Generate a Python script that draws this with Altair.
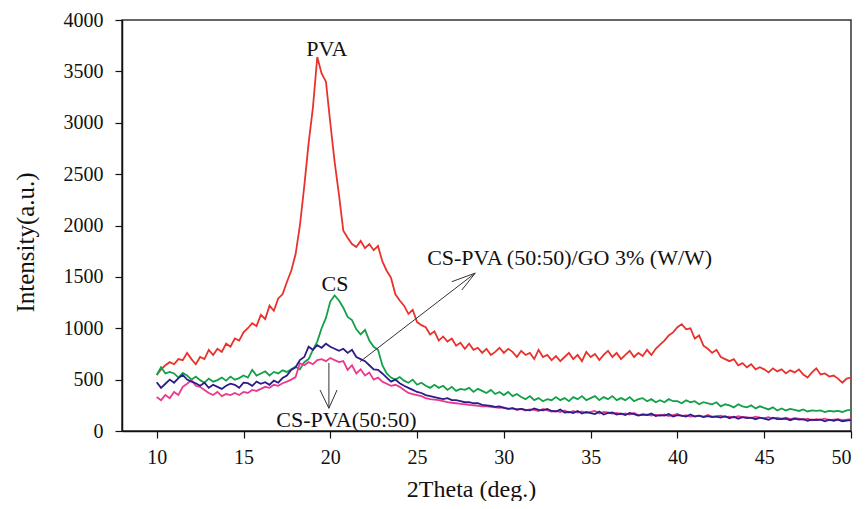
import altair as alt
import pandas as pd

# 2Theta grid (deg), step 0.25 from 10 to 50
two_theta = [round(10 + 0.25 * i, 2) for i in range(161)]

pva = [
    545, 600, 640, 670,  650, 700, 690, 760,  700, 650, 720, 700,
    790, 740, 800, 770,  850, 820, 900, 880,  960, 1000, 1050, 1020,
    1130, 1090, 1220, 1170,  1290, 1330, 1450, 1560,  1720, 2000, 2380, 2800,
    3150, 3640, 3480, 3400,  3000, 2620, 2300, 1950,  1880, 1820, 1790, 1850,
    1780, 1820, 1760, 1800,  1650, 1560, 1490, 1330,  1270, 1220, 1140, 1180,
    1060, 1030, 1010, 940,  970, 880, 920, 870,  900, 830, 860, 800,
    850, 790, 810, 760,  800, 740, 770, 810,  760, 800, 770, 720,
    780, 740, 760, 700,  790, 720, 740, 690,  730, 680, 720, 760,
    700, 740, 680, 770,  720, 750, 690, 740,  780, 720, 760, 700,
    740, 780, 720, 760,  730, 790, 740, 800,  840, 880, 930, 960,
    1010, 1040, 990, 1000,  900, 930, 830, 800,  760, 790, 720, 700,
    680, 700, 640, 660,  620, 650, 600, 620,  600, 570, 610, 580,
    600, 560, 590, 570,  600, 550, 520, 570,  610, 550, 560, 530,
    540, 510, 470, 510,  520,
]

cs = [
    545, 620, 560, 575,  560, 520, 565, 540,  500, 530, 495, 470,
    510, 480, 495, 520,  490, 530, 500, 515,  540, 520, 595, 540,
    560, 580, 540, 575,  560, 590, 575, 600,  625, 600, 670, 700,
    790, 870, 1000, 1100,  1260, 1320, 1270, 1200,  1110, 1080, 990, 940,
    985, 880, 820, 790,  640, 560, 520, 500,  525, 490, 470, 500,
    450, 470, 440, 420,  450, 420, 440, 400,  430, 390, 410, 400,
    420, 380, 410, 390,  370, 400, 360, 380,  350, 380, 340, 360,
    330, 310, 340, 300,  320, 290, 310, 300,  330, 300, 320, 290,
    330, 310, 340, 300,  320, 340, 300, 330,  310, 340, 300, 320,
    300, 330, 290, 310,  320, 290, 310, 280,  300, 280, 310, 290,
    290, 270, 300, 280,  290, 260, 280, 270,  260, 280, 240, 260,
    250, 230, 260, 240,  230, 250, 220, 240,  225, 210, 230, 200,
    220, 200, 215, 205,  195, 210, 190, 200,  195, 200, 185, 195,
    190, 195, 185, 200,  205,
]

cs_pva = [
    330, 300, 350, 320,  380, 350, 430, 460,  495, 440, 430, 400,
    370, 350, 380, 340,  360, 350, 370, 350,  380, 370, 400, 390,
    410, 430, 420, 450,  440, 465, 480, 500,  525, 660, 640, 670,
    650, 690, 700, 680,  710, 690, 670, 680,  595, 640, 560, 600,
    540, 570, 500, 520,  480, 460, 440, 450,  430, 400, 370, 360,
    350, 340, 320, 310,  305, 300, 290, 280,  275, 270, 265, 260,
    255, 250, 245, 240,  240, 235, 230, 225,  230, 215, 225, 205,
    215, 200, 210, 205,  195, 215, 200, 190,  195, 185, 200, 180,
    195, 180, 190, 175,  185, 195, 170, 185,  180, 170, 175, 165,
    170, 160, 175, 155,  165, 160, 150, 160,  150, 160, 145, 155,
    165, 145, 155, 140,  145, 150, 140, 155,  140, 145, 150, 135,
    140, 130, 145, 135,  135, 125, 140, 130,  125, 135, 120, 130,
    120, 130, 115, 125,  120, 110, 120, 105,  115, 110, 120, 105,
    110, 115, 105, 110,  115,
]

cs_pva_go = [
    475, 420, 460, 500,  470, 515, 545, 500,  480, 465, 440, 470,
    420, 450, 430, 410,  440, 460, 450, 420,  470, 465, 440, 480,
    460, 475, 450, 490,  470, 515, 540, 595,  620, 690, 720, 820,
    790, 835, 810, 850,  820, 800, 780, 800,  760, 790, 720, 700,
    680, 640, 600, 595,  560, 520, 480, 500,  465, 440, 420, 400,
    380, 370, 350, 340,  330, 320, 310, 320,  300, 300, 290, 280,
    280, 270, 270, 255,  250, 245, 235, 240,  225, 215, 220, 210,
    215, 205, 200, 220,  205, 200, 215, 195,  190, 210, 180, 185,
    175, 195, 170, 185,  175, 165, 190, 160,  175, 180, 160, 170,
    155, 175, 165, 150,  160, 155, 170, 145,  155, 150, 165, 140,
    155, 150, 140, 160,  140, 150, 135, 145,  135, 140, 130, 145,
    125, 140, 120, 135,  125, 130, 115, 130,  120, 110, 130, 115,
    115, 120, 105, 120,  110, 115, 100, 110,  105, 110, 95, 110,
    100, 110, 95, 100,  105,
]

series_names = ["PVA", "CS", "CS-PVA(50:50)", "CS-PVA (50:50)/GO 3% (W/W)"]
series_colors = ["#e8322b", "#12a048", "#ea3a8e", "#2c1c8a"]

x_ticks = [10, 15, 20, 25, 30, 35, 40, 45, 50]
y_ticks = [0, 500, 1000, 1500, 2000, 2500, 3000, 3500, 4000]

# annotation labels (data coordinates)
label_text = ["PVA", "CS", "CS-PVA (50:50)/GO 3% (W/W)", "CS-PVA(50:50)"]
label_x = [19.8, 20.27, 25.58, 20.93]
label_y = [3720, 1435, 1683, 105]
label_align = ["center", "center", "left", "center"]

# arrow segments (data coordinates)
arrow_x = [21.71, 27.00, 27.58, 19.92, 19.41, 20.39]
arrow_y = [674, 1453, 1372, 662, 399, 399]
arrow_x2 = [28.35, 28.35, 28.35, 19.92, 19.92, 19.92]
arrow_y2 = [1537, 1537, 1537, 221, 221, 221]

FONT = "Liberation Serif"

rows = []
for k, (name, vals) in enumerate(zip(series_names, [pva, cs, cs_pva, cs_pva_go])):
    assert len(vals) == len(two_theta), (name, len(vals))
    for xv, yv in zip(two_theta, vals):
        rows.append({"x": xv, "y": yv, "series": name, "ord": k})
df = pd.DataFrame(rows)

xscale = alt.Scale(domain=[8, 50], nice=False, zero=False)
yscale = alt.Scale(domain=[0, 4000], nice=False)

lines = alt.Chart(df).mark_line(strokeWidth=1.8, clip=True).encode(
    x=alt.X("x:Q", scale=xscale,
            axis=alt.Axis(values=x_ticks, format="d", title="2Theta (deg.)", grid=False,
                          tickSize=7, labelPadding=9, titleX=349, titleY=58,
                          titleAlign="center", titleBaseline="middle",
                          labelFont=FONT, titleFont=FONT,
                          labelFontSize=20, titleFontSize=24)),
    y=alt.Y("y:Q", scale=yscale,
            axis=alt.Axis(values=y_ticks, format="d", title="Intensity(a.u.)", grid=False,
                          tickSize=7, labelPadding=12, titleX=-97, titleY=222,
                          titleAlign="center", titleBaseline="middle",
                          labelFont=FONT, titleFont=FONT,
                          labelFontSize=20, titleFontSize=25)),
    color=alt.Color("series:N", scale=alt.Scale(domain=series_names, range=series_colors),
                    legend=None),
    detail="series:N",
)

seg_df = pd.DataFrame({"x": arrow_x, "y": arrow_y, "x2": arrow_x2, "y2": arrow_y2})
arrows = alt.Chart(seg_df).mark_rule(color="#333333", strokeWidth=1).encode(
    x="x:Q", y="y:Q", x2="x2:Q", y2="y2:Q"
)

lab_df = pd.DataFrame({"t": label_text, "x": label_x, "y": label_y, "a": label_align})
labels_c = alt.Chart(lab_df[lab_df.a == "center"]).mark_text(
    font=FONT, fontSize=22, color="#111111", align="center", baseline="middle"
).encode(x="x:Q", y="y:Q", text="t:N")
labels_l = alt.Chart(lab_df[lab_df.a == "left"]).mark_text(
    font=FONT, fontSize=22, color="#111111", align="left", baseline="middle"
).encode(x="x:Q", y="y:Q", text="t:N")

chart = alt.layer(lines, arrows, labels_c, labels_l).properties(
    width=729, height=411,
    autosize=alt.AutoSizeParams(type="none"),
    padding={"left": 114, "top": 12, "right": 6, "bottom": 70},
    background="white",
).configure_view(
    stroke="#333333", strokeWidth=1.5
).configure_axis(
    labelFont=FONT, titleFont=FONT, titleFontWeight="normal",
    labelColor="#111111", titleColor="#111111",
    domainColor="#111111", tickColor="#111111", domainWidth=1.5, tickWidth=1.2,
)

chart.save("out.html", embed_options={"renderer": "svg", "actions": False})
